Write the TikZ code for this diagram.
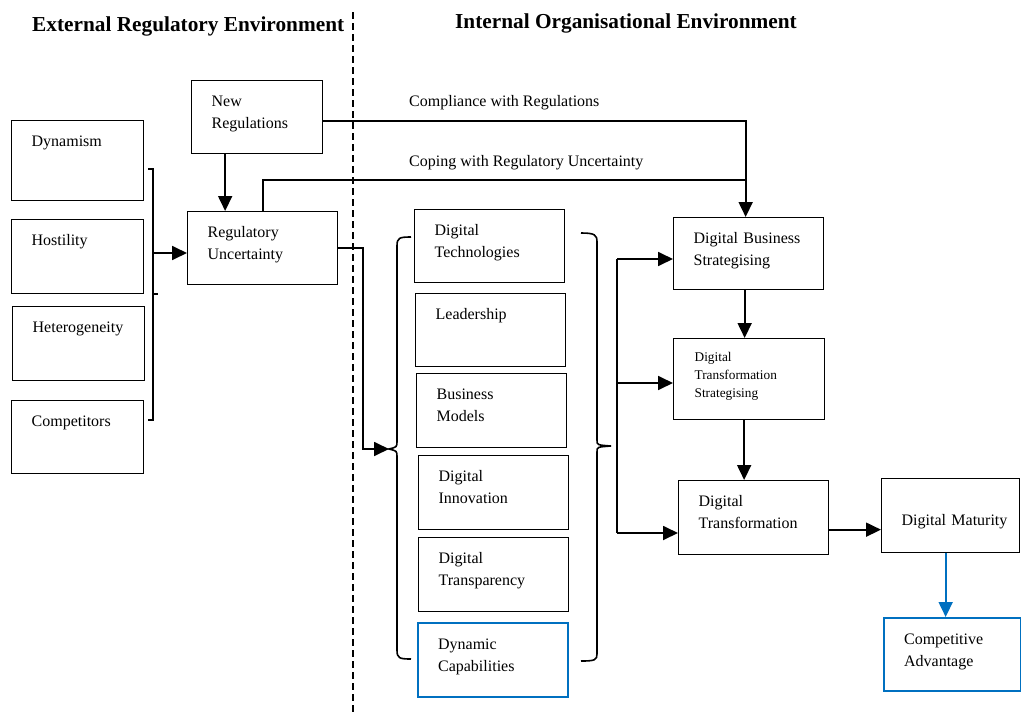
\documentclass[tikz,border=0pt]{standalone}
\usepackage{fontspec}
\setmainfont{Liberation Serif}
\usepackage{xcolor}
\usepackage{tikz}
\usetikzlibrary{arrows.meta,positioning}
\definecolor{capblue}{RGB}{0,112,192}

\begin{document}
\begin{tikzpicture}[x=1pt, y=-1pt,
  every node/.style={font=\fontsize{16}{22}\selectfont},
  factor/.style={draw, anchor=north west, line width=1.3pt, inner xsep=20pt,
                 inner ysep=10pt, text width=110pt, text height=16pt,
                 text depth=37pt, align=left},
  envfactor/.style={factor, text width=92pt},
  capbox/.style={factor, draw=capblue, line width=2.2pt},
  heading/.style={anchor=base west, inner sep=0pt,
                  font=\fontsize{21.3}{24}\selectfont\bfseries},
  flowlabel/.style={anchor=base west, inner sep=0pt},
  conn/.style={line width=1.8pt},
  brace/.style={line width=1.6pt},
  >={Triangle[length=15pt,width=14pt]}
]
  \useasboundingbox (0,0) rectangle (1021,715);

  % headings and divider
  \node[heading] (exthead) at (32,31) {External Regulatory Environment};
  \node[heading] (inthead) at (455,28) {Internal Organisational Environment};
  \draw[line width=1.3pt, dash pattern=on 7pt off 4pt] (353,12) -- (353,715);

  % external environment
  \node[envfactor, text depth=44pt] (dyn)  at (11,120) {Dynamism};
  \node[envfactor, text depth=38pt] (host) at (11,219) {Hostility};
  \node[envfactor, text depth=38pt] (het)  at (12,306) {Heterogeneity};
  \node[envfactor]                  (comp) at (11,400) {Competitors};
  \node[factor, text width=91pt]    (newreg)    at (191,80)  {New\\Regulations};
  \node[factor]                     (reguncert) at (187,211) {Regulatory\\Uncertainty};

  \draw[brace] (148,169) -- (153,169) -- (153,420) -- (148,420);
  \draw[brace] (153,294) -- (158,294);
  \coordinate (envjoin) at (153,253);
  \draw[conn,->] (envjoin) -- (envjoin -| reguncert.west);
  \draw[conn,->] ([xshift=-32pt]newreg.south) -- ([xshift=-32pt]newreg.south |- reguncert.north);

  % internal capabilities
  \node[factor]                     (dtech)  at (414,209) {Digital\\Technologies};
  \node[factor]                     (lead)   at (415,293) {Leadership};
  \node[factor, text depth=38pt]    (bizmod) at (416,373) {Business\\Models};
  \node[factor, text depth=38pt]    (dinno)  at (418,455) {Digital\\Innovation};
  \node[factor, text depth=38pt]    (dtrans) at (418,537) {Digital\\Transparency};
  \node[capbox, text depth=38pt]    (dyncap) at (417,622) {Dynamic\\Capabilities};

  \draw[brace] (411,237) .. controls (399,237) and (397,238) .. (397,246)
    -- (397,441) .. controls (397,447) .. (389,449)
    .. controls (397,451) .. (397,457) -- (397,650)
    .. controls (397,658) and (399,659) .. (411,659);
  \draw[brace] (581,233) .. controls (595,233) and (597,235) .. (597,242)
    -- (597,440) .. controls (597,445) .. (611,446)
    .. controls (597,447) .. (597,452) -- (597,654)
    .. controls (597,660) and (595,661) .. (581,661);

  % strategising chain
  \node[factor, text depth=36pt] (dbs) at (673,217) {Digital Business\\Strategising};
  \node[factor, text width=109pt, inner xsep=21pt, text height=13pt, text depth=48pt,
        font=\fontsize{13.3}{18}\selectfont]
        (dts) at (673,338) {Digital\\Transformation\\Strategising};
  \node[factor, text depth=38pt] (dt)  at (678,480) {Digital\\Transformation};
  \node[factor, text width=98pt, text height=37pt, text depth=17pt]
        (dm) at (881,478) {\mbox{Digital Maturity}};
  \node[capbox, text width=97pt] (ca) at (883,617) {Competitive\\Advantage};

  % connectors
  \coordinate (copejoin) at (745,180);
  \draw[conn,->] ([yshift=-3.5pt]newreg.east) -| ([xshift=-3pt]dbs.north);
  \draw[conn] (reguncert.north) |- (copejoin);
  \node[flowlabel] (complbl) at (409,106) {Compliance with Regulations};
  \node[flowlabel] (copelbl) at (409,166) {Coping with Regulatory Uncertainty};

  \coordinate (lbtip) at (389,449);
  \draw[conn,->] (reguncert.east) -- ++(25,0) |- (lbtip);

  \coordinate (forktop) at (617,259);
  \coordinate (forkmid) at (617,383);
  \coordinate (forkbot) at (617,533);
  \draw[conn] (forktop) -- (forkbot);
  \draw[conn,->] (forktop) -- (forktop -| dbs.west);
  \draw[conn,->] (forkmid) -- (forkmid -| dts.west);
  \draw[conn,->] (forkbot) -- (forkbot -| dt.west);

  \draw[conn,->] ([xshift=-4pt]dbs.south) -- ([xshift=-4pt]dbs.south |- dts.north);
  \draw[conn,->] ([xshift=-5pt]dts.south) -- ([xshift=-5pt]dts.south |- dt.north);
  \draw[conn,->] ([yshift=-12pt]dt.east) -- ([yshift=-12pt]dt.east -| dm.west);
  \draw[conn,->,draw=capblue] ([xshift=-5pt]dm.south) -- ([xshift=-5pt]dm.south |- ca.north);
\end{tikzpicture}
\end{document}
